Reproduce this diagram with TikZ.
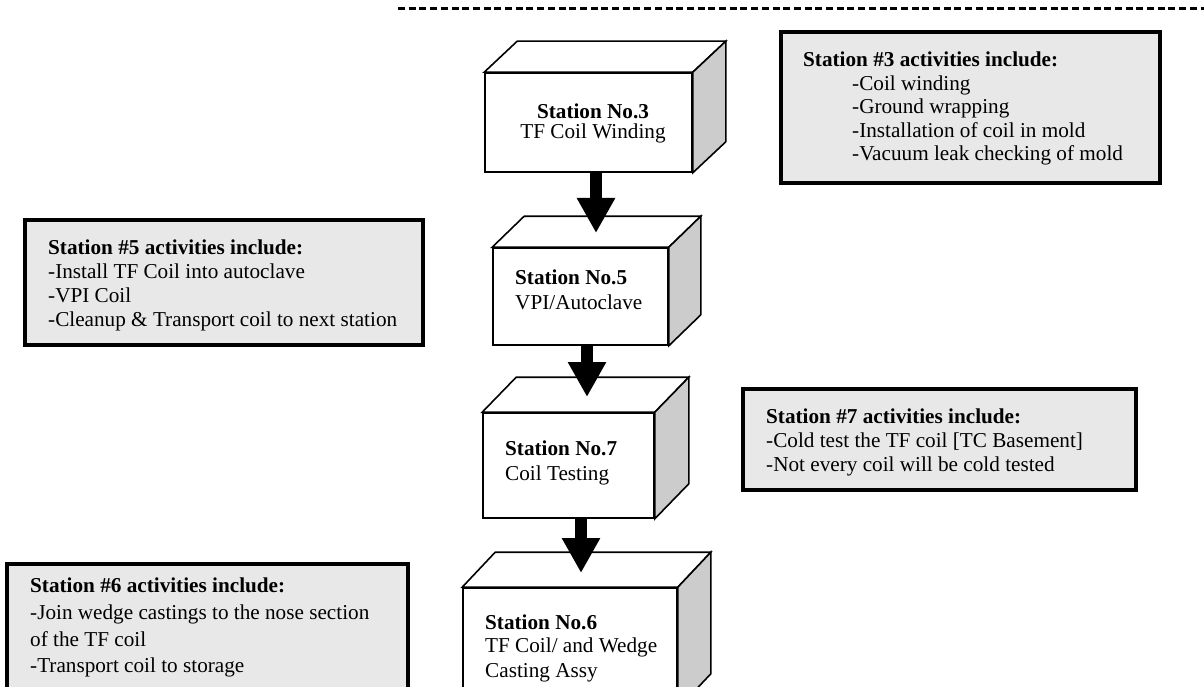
\documentclass[tikz,border=0pt]{standalone}
\usepackage{fontspec}
\setmainfont{Liberation Serif}
\usetikzlibrary{arrows.meta}
\definecolor{infofill}{HTML}{E8E8E8}
\definecolor{sidefill}{HTML}{CCCCCC}
\tikzset{
  front/.style={draw, line width=1.6pt, fill=white, inner sep=0, rectangle},
  face/.style={draw, line width=1.6pt, fill=white, line join=miter},
  side/.style={draw, line width=1.6pt, fill=sidefill, line join=miter},
  infobox/.style={draw, line width=3.5pt, fill=infofill, inner sep=0, rectangle},
  txt/.style={inner sep=0, anchor=base west, font=\fontsize{21.2}{24}\selectfont},
  txtc/.style={inner sep=0, anchor=base, font=\fontsize{21.2}{24}\selectfont},
  bigarrow/.style={line width=12pt, -{Triangle[length=35pt,width=36pt]}},
  sepline/.style={line width=3pt, dash pattern=on 7pt off 3.7pt}
}
\begin{document}
\begin{tikzpicture}[x=1pt,y=-1pt]
\useasboundingbox (0,0) rectangle (1204,687);
\clip (0,0) rectangle (1204,687);

% separator
\draw[sepline] (398,8.5) -- (1204,8.5);

% ---------- Station No.3 box ----------
\node[front, minimum width=207pt, minimum height=99pt] (s3) at (588.5,122.5) {};
\draw[face] (s3.north west) -- ([xshift=33pt,yshift=31pt]s3.north west) -- ([xshift=33pt,yshift=31pt]s3.north east) -- (s3.north east) -- cycle;
\draw[side] (s3.north east) -- ([xshift=33pt,yshift=31pt]s3.north east) -- ([xshift=33pt,yshift=31pt]s3.south east) -- (s3.south east) -- cycle;
\node[txtc] (s3a) at (593,119) {\textbf{Station No.3}};
\node[txtc] (s3b) at (593,138.5) {TF Coil Winding};

% ---------- Station No.5 box ----------
\node[front, minimum width=175pt, minimum height=97pt] (s5) at (580.5,296.5) {};
\draw[face] (s5.north west) -- ([xshift=32pt,yshift=31pt]s5.north west) -- ([xshift=32pt,yshift=31pt]s5.north east) -- (s5.north east) -- cycle;
\draw[side] (s5.north east) -- ([xshift=32pt,yshift=31pt]s5.north east) -- ([xshift=32pt,yshift=31pt]s5.south east) -- (s5.south east) -- cycle;
\node[txt] (s5a) at (515,284) {\textbf{Station No.5}};
\node[txt] (s5b) at (515,309) {VPI/Autoclave};

% ---------- Station No.7 box ----------
\node[front, minimum width=171pt, minimum height=105pt] (s7) at (568.5,465.5) {};
\draw[face] (s7.north west) -- ([xshift=34pt,yshift=35pt]s7.north west) -- ([xshift=34pt,yshift=35pt]s7.north east) -- (s7.north east) -- cycle;
\draw[side] (s7.north east) -- ([xshift=34pt,yshift=35pt]s7.north east) -- ([xshift=34pt,yshift=35pt]s7.south east) -- (s7.south east) -- cycle;
\node[txt] (s7a) at (505,455) {\textbf{Station No.7}};
\node[txt] (s7b) at (505,480) {Coil Testing};

% ---------- Station No.6 box ----------
\node[front, minimum width=214pt, minimum height=120pt] (s6) at (570,648) {};
\draw[face] (s6.north west) -- ([xshift=33pt,yshift=35pt]s6.north west) -- ([xshift=33pt,yshift=35pt]s6.north east) -- (s6.north east) -- cycle;
\draw[side] (s6.north east) -- ([xshift=33pt,yshift=35pt]s6.north east) -- ([xshift=33pt,yshift=35pt]s6.south east) -- (s6.south east) -- cycle;
\node[txt] (s6a) at (485,629) {\textbf{Station No.6}};
\node[txt] (s6b) at (485,652) {TF Coil/ and Wedge};
\node[txt] (s6c) at (485,677) {Casting Assy};

% ---------- arrows ----------
\coordinate (t5) at (596,233);
\coordinate (t7) at (587,397);
\coordinate (t6) at (581,573);
\draw[bigarrow] (s3.south -| t5) -- (t5);
\draw[bigarrow] (s5.south -| t7) -- (t7);
\draw[bigarrow] (s7.south -| t6) -- (t6);

% ---------- info boxes ----------
\node[infobox, minimum width=379pt, minimum height=151pt] (i3) at (970.5,107.5) {};
\node[txt] (i3a) at (803,67) {\textbf{Station \#3 activities include:}};
\node[txt] (i3b) at (852,90.5) {-Coil winding};
\node[txt] (i3c) at (852,114) {-Ground wrapping};
\node[txt] (i3d) at (852,137.5) {-Installation of coil in mold};
\node[txt] (i3e) at (852,161) {-Vacuum leak checking of mold};

\node[infobox, minimum width=398pt, minimum height=125pt] (i5) at (224,282.5) {};
\node[txt] (i5a) at (48,254) {\textbf{Station \#5 activities include:}};
\node[txt] (i5b) at (48,278) {-Install TF Coil into autoclave};
\node[txt] (i5c) at (48,302) {-VPI Coil};
\node[txt] (i5d) at (48,326) {-Cleanup \& Transport coil to next station};

\node[infobox, minimum width=393pt, minimum height=101pt] (i7) at (939.5,439.5) {};
\node[txt] (i7a) at (766,423) {\textbf{Station \#7 activities include:}};
\node[txt] (i7b) at (766,447) {-Cold test the TF coil [TC Basement]};
\node[txt] (i7c) at (766,471) {-Not every coil will be cold tested};

\node[infobox, minimum width=401pt, minimum height=140pt] (i6) at (207.5,634) {};
\node[txt] (i6a) at (30,592) {\textbf{Station \#6 activities include:}};
\node[txt] (i6b) at (30,619) {-Join wedge castings to the nose section};
\node[txt] (i6c) at (30,646) {of the TF coil};
\node[txt] (i6d) at (30,672) {-Transport coil to storage};
\end{tikzpicture}
\end{document}
